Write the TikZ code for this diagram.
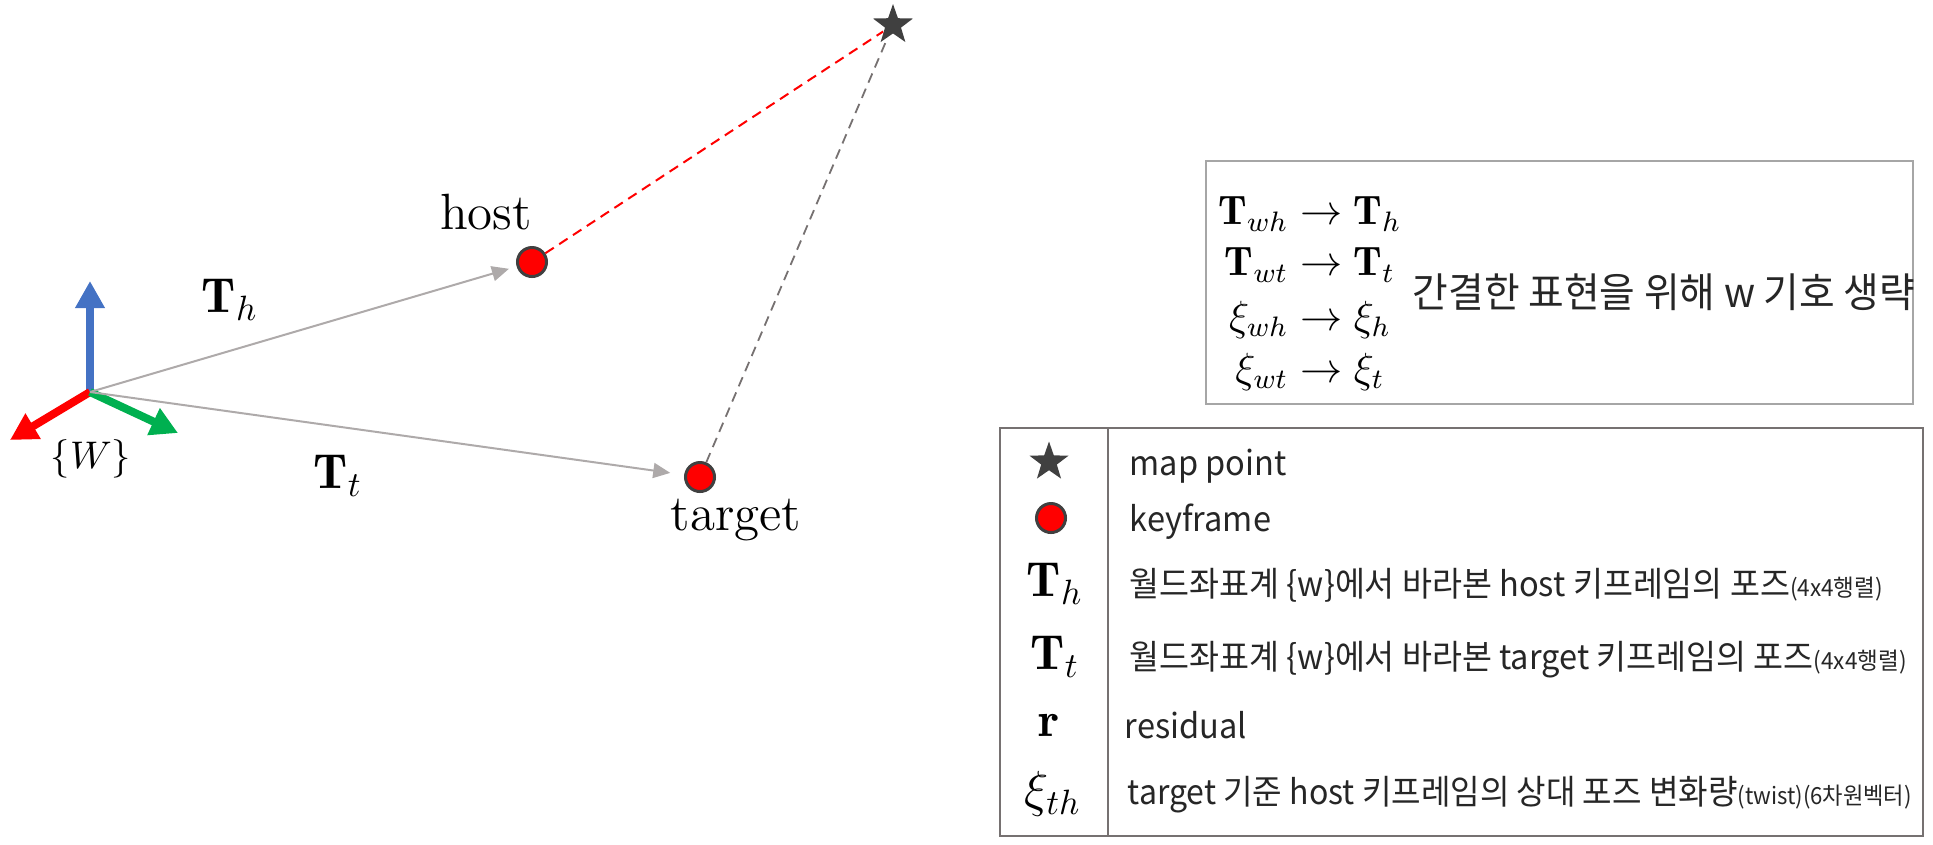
\documentclass[tikz,border=0pt]{standalone}
\usepackage{fontspec}
\usepackage{amsmath}
\usepackage{graphicx}
\newfontfamily\kr{Noto Sans CJK KR}
\newcommand\sqzt[1]{\scalebox{0.955}[1]{#1}}
\newcommand\smalltxt[1]{{\fontsize{6.7}{7}\selectfont #1}}
\usetikzlibrary{arrows.meta,shapes.geometric}
\definecolor{axblue}{HTML}{4472C4}
\definecolor{axred}{HTML}{FF0000}
\definecolor{axgreen}{HTML}{00B050}
\definecolor{arrgray}{HTML}{AEAAAA}
\definecolor{dkgray}{HTML}{404040}
\definecolor{dashgray}{HTML}{767171}
\definecolor{boxgray}{HTML}{A6A6A6}
\definecolor{tabgray}{HTML}{767171}
\definecolor{txt}{HTML}{262626}
\begin{document}
\begin{tikzpicture}[x=0.01cm,y=-0.01cm,
  axis/.style={line width=0.08cm,-{Triangle[length=0.27cm,width=0.28cm]}},
  posearrow/.style={draw=arrgray,line width=0.02cm,-{Triangle[length=0.17cm,width=0.15cm]}},
  kf/.style={circle,fill=red,draw=dkgray,line width=0.03cm,inner sep=0pt,minimum size=0.29cm},
  mp/.style={star,star points=5,star point ratio=2.5,fill=dkgray,draw=none,inner sep=0pt,minimum size=0.42cm},
  lbl/.style={font=\fontsize{14.5}{17}\selectfont,inner sep=0pt},
  mlbl/.style={font=\fontsize{14}{16}\selectfont,inner sep=0pt},
  tmath/.style={font=\fontsize{11.7}{13}\selectfont,inner sep=0pt},
  ltxt/.style={font=\kr\fontsize{9.7}{11}\selectfont,text=txt,anchor=west,inner sep=0pt}]
\useasboundingbox (0,0) rectangle (1933,844);

% coordinate frame
\coordinate (O) at (90,392);
\coordinate (Zt) at (90,281);
\coordinate (Xt) at (10,440);
\coordinate (Yt) at (178,433);
\draw[axis,axblue] (O) -- (Zt);
\draw[axis,axred] (O) -- (Xt);
\draw[axis,axgreen] (O) -- (Yt);
\node[font=\fontsize{11}{13}\selectfont,inner sep=0pt] (W) at (91,459) {$\{W\}$};

% keyframes and map point
\node[kf] (host) at (532,262) {};
\node[kf] (target) at (700,477) {};
\node[mp] (mpt) at (893,25) {};
\node[lbl] (hostl) at (486,212) {host};
\node[lbl] (targetl) at (736,520) {target};

\draw[posearrow,shorten >=0.08cm] (O) -- (host);
\draw[posearrow,shorten >=0.14cm] (O) -- (target);
\node[mlbl] (Th) at (230,300) {$\mathbf{T}_h$};
\node[mlbl] (Tt) at (338,476) {$\mathbf{T}_t$};

\draw[red,line width=0.02cm,dash pattern=on 0.1cm off 0.065cm] (host) -- (mpt);
\draw[dashgray,line width=0.018cm,dash pattern=on 0.1cm off 0.065cm] (target) -- (mpt);

% top box
\node[draw=boxgray,line width=0.02cm,minimum width=7.07cm,minimum height=2.42cm,inner sep=0pt] (topbox) at (1559.5,282.5) {};
\node[tmath] (n1) at (1310,214) {$\mathbf{T}_{wh}\rightarrow\mathbf{T}_{h}$};
\node[tmath] (n2) at (1310,265) {$\mathbf{T}_{wt}\rightarrow\mathbf{T}_{t}$};
\node[tmath] (n3) at (1310,320) {$\xi_{wh}\rightarrow\xi_{h}$};
\node[tmath] (n4) at (1310,372) {$\xi_{wt}\rightarrow\xi_{t}$};
\node[font=\kr\fontsize{11.6}{13}\selectfont,text=txt,inner sep=0pt] (note) at (1664,292) {\scalebox{0.95}[1]{간결한 표현을 위해 w 기호 생략}};

% legend table
\node[draw=tabgray,line width=0.02cm,minimum width=9.23cm,minimum height=4.08cm,inner sep=0pt] (legend) at (1461.5,632) {};
\draw[tabgray,line width=0.02cm] (1108,428) -- (1108,836);

\node[mp,minimum size=0.41cm] (s1) at (1049,462) {};
\node[kf] (s2) at (1051,518) {};
\node[mlbl] (s3) at (1055,584) {$\mathbf{T}_h$};
\node[mlbl] (s4) at (1055,657) {$\mathbf{T}_t$};
\node[mlbl] (s5) at (1049,725) {$\mathbf{r}$};
\node[mlbl] (s6) at (1053,794) {$\xi_{th}$};

\node[ltxt] (t1) at (1129,466) {\sqzt{map point}};
\node[ltxt] (t2) at (1129,522) {\sqzt{keyframe}};
\node[ltxt] (t3) at (1129,585) {\sqzt{월드좌표계 \{w\}에서 바라본 host 키프레임의 포즈\smalltxt{(4x4행렬)}}};
\node[ltxt] (t4) at (1129,660) {\sqzt{월드좌표계 \{w\}에서 바라본 target 키프레임의 포즈\smalltxt{(4x4행렬)}}};
\node[ltxt] (t5) at (1124,725) {\sqzt{residual}};
\node[ltxt] (t6) at (1127,795) {\scalebox{0.94}[1]{target 기준 host 키프레임의 상대 포즈 변화량\smalltxt{(twist)(6차원벡터)}}};
\end{tikzpicture}
\end{document}
